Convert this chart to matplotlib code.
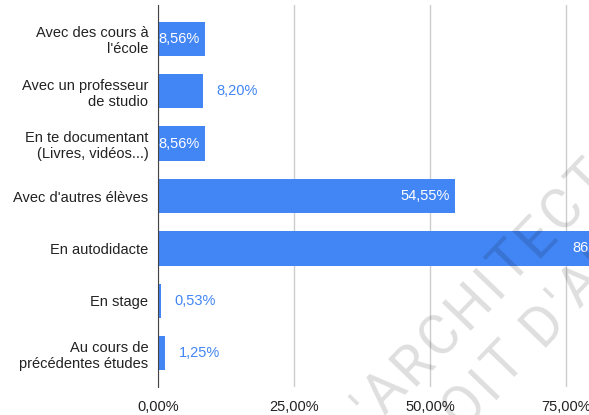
import matplotlib
matplotlib.use("Agg")
import matplotlib.pyplot as plt
import numpy as np
from matplotlib.transforms import IdentityTransform

plt.rcParams['font.family'] = ['Liberation Sans', 'DejaVu Sans']

categories = ["Avec des cours à\nl'école",
              "Avec un professeur\nde studio",
              "En te documentant\n(Livres, vidéos...)",
              "Avec d'autres élèves",
              "En autodidacte",
              "En stage",
              "Au cours de\nprécédentes études"]
values = [8.56, 8.20, 8.56, 54.55, 86.13, 0.53, 1.25]
xticks = [0, 25, 50, 75, 100]

blue = '#4285F4'
fs = 10.5

W, H = 589, 415
fig = plt.figure(figsize=(W / 100, H / 100), dpi=100)
ax = fig.add_axes([158 / W, 1 - 387 / H, 544 / W, 382 / H])

pos = list(range(len(categories)))
ax.barh(pos, values, height=0.65, color=blue, zorder=2)

for y, v in zip(pos, values):
    txt = f"{v:.2f}%".replace('.', ',')
    if v > 8.3:
        ax.annotate(txt, (v, y), xytext=(-3.5, 0), textcoords='offset points',
                    ha='right', va='center', color='white', fontsize=fs, zorder=3)
    else:
        ax.annotate(txt, (v, y), xytext=(10, 0), textcoords='offset points',
                    ha='left', va='center', color=blue, fontsize=fs, zorder=3)

ax.set_xlim(0, 100)
ax.set_ylim(6.64, -0.64)
ax.set_yticks(pos)
ax.set_yticklabels(categories, fontsize=fs, color='#222222')
ax.set_xticks(xticks)
ax.set_xticklabels([f"{t:.2f}%".replace('.', ',') for t in xticks], fontsize=fs, color='#222222')
ax.tick_params(axis='both', length=0)
ax.tick_params(axis='x', pad=9)
ax.tick_params(axis='y', pad=7)
ax.grid(axis='x', color='#cccccc', linewidth=1, zorder=0)
for s in ['top', 'right', 'bottom']:
    ax.spines[s].set_visible(False)
ax.spines['left'].set_color('#444444')
ax.spines['left'].set_zorder(4)

# watermark, letter by letter with wide spacing (pixel coords, y from top)
ang = 46
d = np.array([np.cos(np.radians(ang)), -np.sin(np.radians(ang))])
nrm = np.array([np.sin(np.radians(ang)), np.cos(np.radians(ang))])
wm_style = dict(fontsize=40, family='Roboto', fontweight='normal')
renderer = fig.canvas.get_renderer()


def char_width(ch):
    if ch == ' ':
        return 12
    t = fig.text(0, 0, ch, **wm_style)
    w = t.get_window_extent(renderer).width
    t.remove()
    return w


def watermark(word, start, gap):
    p = np.array(start, dtype=float)
    prev = None
    for ch in word:
        w = char_width(ch)
        if prev is not None:
            p = p + d * ((prev + w) / 2 + gap)
        if ch != ' ':
            fig.text(p[0], H - p[1], ch, transform=IdentityTransform(),
                     rotation=ang, rotation_mode='anchor', ha='center', va='center',
                     color='black', alpha=0.13, zorder=10, **wm_style)
        prev = w


a_pos = np.array([388, 390])
watermark("'ARCHITECTE", a_pos - d * 30, gap=4)
watermark("DROIT D'AUTEUR", a_pos - d * 38 + nrm * 66, gap=4)

fig.savefig('out.png', dpi=100)
